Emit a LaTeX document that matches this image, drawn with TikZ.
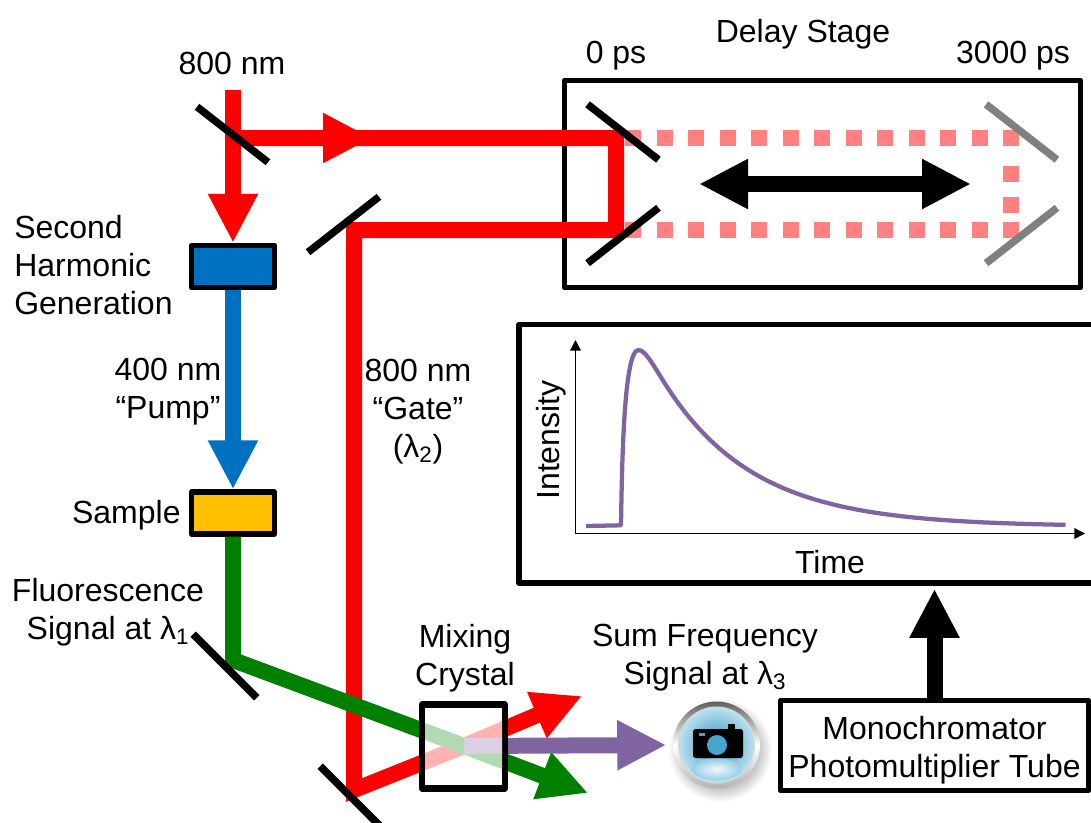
\documentclass[tikz,border=0pt]{standalone}
\usepackage{fontspec}
\setmainfont{Liberation Sans}
\usetikzlibrary{arrows.meta,positioning}
\definecolor{beamblue}{HTML}{0070C0}
\definecolor{beamgreen}{HTML}{008000}
\definecolor{sumpurple}{HTML}{8064A2}
\definecolor{amber}{HTML}{FFC000}
\definecolor{lens}{HTML}{45A5CC}
\definecolor{glass}{HTML}{3AA6CF}
\tikzset{bigtip/.tip={Triangle[length=36.75pt,width=35pt]},
         beam/.style={line width=12pt,-bigtip},
         delayed/.style={line width=12pt,red!50,dash pattern=on 12pt off 11.6pt},
         mirror/.style={fill=#1,minimum width=67.5pt,minimum height=5.6pt,inner sep=0pt},
         box/.style={draw,line width=4pt,line join=round,inner sep=0pt},
         optic/.style={box,minimum width=62.25pt,minimum height=31.5pt},
         lbl/.style={font=\fontsize{24}{28.5}\selectfont,align=center,inner sep=0pt}}

\begin{document}
\begin{tikzpicture}[x=0.75pt,y=-0.75pt]
	\useasboundingbox (0,0) rectangle (1091,822);

	\coordinate (input) at (233,90);
	\coordinate (split) at (233,138);
	\coordinate (midtip) at (372,138);
	\coordinate (stagetop) at (616,138);
	\coordinate (stagebot) at (616,230);
	\coordinate (gate) at (354,230);
	\coordinate (turn) at (354,790);
	\coordinate (mix) at (464,746);
	\coordinate (redtip) at (582,696);
	\coordinate (fold) at (233,660);
	\coordinate (greentip) at (588,793);
	\coordinate (dotsA) at (1019,138);
	\coordinate (dotsB) at (625,138);
	\coordinate (dotsC) at (1019,230);
	\coordinate (dotsD) at (625,230);
	\coordinate (dotsE) at (1011,166);
	\coordinate (dotsF) at (1011,214);
	\coordinate (slideL) at (699,184);
	\coordinate (slideR) at (971,184);
	\coordinate (origin) at (575.5,533.5);
	\coordinate (ytip) at (575.5,340);
	\coordinate (xtip) at (1085,533.5);

	\node[box,minimum width=387pt,minimum height=155.25pt] (stage) at (822.5,184) {};
	\node[box,minimum width=431.25pt,minimum height=194pt] (trace) at (806.5,453.75) {};
	\node[box,minimum width=231pt,minimum height=67.5pt] (mono) at (934.5,745.5) {};
	\node[optic,fill=beamblue] (shg) at (233,266.5) {};
	\node[optic,fill=amber] (sample) at (233,513) {};
	\node[minimum size=75pt,inner sep=0pt,circle] (camera) at (716.5,745) {};

	\draw[beam,red] (input) -- (shg.north);
	\draw[beam,red] (split) -- (midtip);
	\draw[beam,red] (split) -- (stagetop) -- (stagebot) -- (gate) -- (turn) -- (mix) -- (redtip);
	\draw[delayed] (dotsA) -- (dotsB);
	\draw[delayed] (dotsC) -- (dotsD);
	\draw[delayed] (dotsE) -- (dotsF);
	\draw[beam,beamblue] (shg.south) -- (sample.north);
	\draw[beam,beamgreen] (sample.south) -- (fold) -- (mix) -- (greentip);
	\draw[beam,sumpurple] (mix) -- (camera.west);
	\draw[beam,{bigtip}-{bigtip},black] (slideL) -- (slideR);
	\draw[beam,black,shorten >=2.25pt] (mono.north) -- (mono.north |- trace.south);

	\node[mirror=black,rotate=-38] (beamsplit) at (232.5,134.5) {};
	\node[mirror=black,rotate=38] (gatemirror) at (343.5,224.5) {};
	\node[mirror=black,rotate=-38] (stageA) at (623,132) {};
	\node[mirror=black,rotate=38] (stageB) at (623,235.5) {};
	\node[mirror=gray,rotate=-38] (farA) at (1021.5,132) {};
	\node[mirror=gray,rotate=38] (farB) at (1021.5,235.5) {};
	\node[mirror=black,rotate=-45] (signalmirror) at (225,666) {};
	\node[mirror=black,rotate=-45] (gatelower) at (352,798) {};

	\node[box,line width=4.75pt,fill=white,minimum width=62.25pt,minimum height=63pt] (crystal) at (463.5,746.5) {};
	\begin{scope}
		\clip (425,707) rectangle (502,786);
		\draw[line width=12pt,red!30] (turn) -- (mix) -- (redtip);
		\draw[line width=12pt,beamgreen!30] (fold) -- (mix) -- (greentip);
		\draw[line width=12pt,sumpurple!30] (mix) -- (camera.west);
	\end{scope}

	\shade[inner color=black!85,outer color=white] (720,750) circle (52);
	\shade[top color=gray!75!black,bottom color=gray!60,middle color=white] (camera) circle (43.5);
	\fill[gray!30!white] (camera) circle (38.5);
	\shade[inner color=glass!90!black,outer color=glass!35!white] (camera) circle (37.5);
	\shade[inner color=white,outer color=glass!55!white,opacity=.9] (716.5,769) ellipse (25 and 11);
	\fill[black,rounded corners=2pt] (693,729) rectangle (743,758);
	\fill[black] (728,724) rectangle (735,731);
	\fill[lens] (717,745) circle (10);
	\fill[lens] (699,733) rectangle (705,736);

	\draw[line width=1.1pt,-{Triangle[length=8pt,width=8pt]}] (origin) -- (ytip);
	\draw[line width=1.1pt,-{Triangle[length=8pt,width=8pt]}] (origin) -- (xtip);
	\draw[line width=3.2pt,sumpurple,line join=round] (586,526) -- (620.5,525.3) -- (621,525) .. controls (622,460) and (624,350) .. (638.5,350) .. controls (645,350) and (652,363) .. (665.5,384.5) -- plot[domain=665.5:1065.5,samples=60] (\x,{526.5-142*exp(-(\x-665.5)/90)});

	\node[lbl] (pumpin) at (232,63) {800 nm};
	\node[lbl] (stagename) at (803,34) {Delay Stage};
	\node[lbl] (zero) at (616,56) {0 ps};
	\node[lbl] (far) at (1013,56) {3000 ps};
	\node[lbl,align=left,anchor=west] (shgname) at (14,265.5) {Second\\Harmonic\\Generation};
	\node[lbl] (pumpname) at (168,392) {400 nm\\“Pump”};
	\node[lbl] (gatename) at (418,412) {800 nm\\“Gate”\\(λ\textsubscript{2})};
	\node[lbl,left=6pt of sample,yshift=-2pt] (samplename) {Sample};
	\node[lbl] (fluor) at (108,612) {Fluorescence\\Signal at λ\textsubscript{1}};
	\node[lbl] (crystalname) at (465,658) {Mixing\\Crystal};
	\node[lbl] (sumname) at (705,658) {Sum Frequency\\Signal at λ\textsubscript{3}};
	\node[lbl] (mononame) at (934.5,750) {Monochromator\\Photomultiplier Tube};
	\node[lbl,rotate=90] (ylabel) at (551,440) {Intensity};
	\node[lbl] (xlabel) at (830,562) {Time};
\end{tikzpicture}
\end{document}
